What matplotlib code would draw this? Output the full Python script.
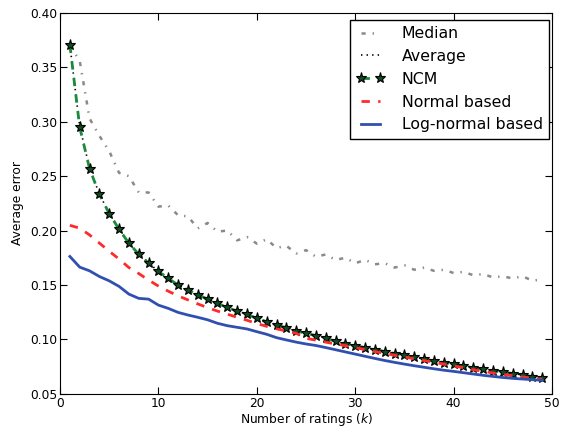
import numpy as np
import matplotlib
matplotlib.use('Agg')
import matplotlib.pyplot as plt

# classic-looking dash patterns
plt.rcParams['lines.scale_dashes'] = False
plt.rcParams['lines.dashed_pattern'] = [6, 6]
plt.rcParams['lines.dashdot_pattern'] = [3, 5, 1, 5]
plt.rcParams['lines.dotted_pattern'] = [1, 3]

# Number of ratings k
k = np.arange(1, 50)

median = [0.370, 0.356, 0.303, 0.287, 0.273, 0.253, 0.250, 0.235, 0.235, 0.222,
          0.223, 0.214, 0.213, 0.202, 0.207, 0.199, 0.200, 0.191, 0.194, 0.188,
          0.192, 0.184, 0.186, 0.179, 0.182, 0.176, 0.178, 0.173, 0.175, 0.170,
          0.173, 0.169, 0.170, 0.166, 0.168, 0.164, 0.166, 0.163, 0.164, 0.161,
          0.162, 0.159, 0.160, 0.157, 0.158, 0.156, 0.158, 0.154, 0.155]

ncm = [0.3707, 0.2949, 0.2570, 0.2332, 0.2156, 0.2012, 0.1883, 0.1783, 0.1700, 0.1624,
       0.1560, 0.1500, 0.1453, 0.1410, 0.1370, 0.1330, 0.1294, 0.1258, 0.1230, 0.1193,
       0.1162, 0.1132, 0.1107, 0.1077, 0.1056, 0.1034, 0.1010, 0.0983, 0.0960, 0.0942,
       0.0924, 0.0906, 0.0888, 0.0870, 0.0855, 0.0836, 0.0818, 0.0802, 0.0787, 0.0772,
       0.0757, 0.0741, 0.0726, 0.0711, 0.0699, 0.0686, 0.0671, 0.0658, 0.0647]

average = [0.3707, 0.2955, 0.2575, 0.2335, 0.2158, 0.2014, 0.1885, 0.1785, 0.1702, 0.1626,
           0.1562, 0.1502, 0.1455, 0.1412, 0.1372, 0.1332, 0.1296, 0.1260, 0.1232, 0.1195,
           0.1164, 0.1134, 0.1109, 0.1079, 0.1058, 0.1036, 0.1012, 0.0985, 0.0962, 0.0944,
           0.0926, 0.0908, 0.0890, 0.0872, 0.0857, 0.0838, 0.0820, 0.0804, 0.0789, 0.0774,
           0.0759, 0.0743, 0.0728, 0.0713, 0.0701, 0.0688, 0.0673, 0.0660, 0.0649]

normal = [0.2048, 0.2022, 0.1960, 0.1885, 0.1810, 0.1738, 0.1660, 0.1605, 0.1545, 0.1490,
          0.1443, 0.1400, 0.1363, 0.1326, 0.1292, 0.1260, 0.1232, 0.1203, 0.1176, 0.1146,
          0.1120, 0.1097, 0.1077, 0.1056, 0.1010, 0.0993, 0.0975, 0.0958, 0.0943, 0.0925,
          0.0906, 0.0888, 0.0871, 0.0854, 0.0838, 0.0822, 0.0806, 0.0790, 0.0773, 0.0756,
          0.0740, 0.0722, 0.0706, 0.0692, 0.0678, 0.0666, 0.0655, 0.0644, 0.0635]

lognormal = [0.1762, 0.1664, 0.1630, 0.1578, 0.1538, 0.1487, 0.1416, 0.1377, 0.1370, 0.1315,
             0.1285, 0.1248, 0.1224, 0.1203, 0.1180, 0.1148, 0.1126, 0.1111, 0.1096, 0.1071,
             0.1047, 0.1016, 0.0995, 0.0975, 0.0958, 0.0944, 0.0925, 0.0905, 0.0885, 0.0865,
             0.0845, 0.0825, 0.0806, 0.0789, 0.0773, 0.0758, 0.0744, 0.0730, 0.0717, 0.0706,
             0.0694, 0.0682, 0.0670, 0.0660, 0.0650, 0.0642, 0.0636, 0.0630, 0.0624]

fig = plt.figure(figsize=(5.61, 4.29), dpi=100)
ax = fig.add_axes([0.107, 0.082, 0.877, 0.888])

ax.plot(k, median, '-.', color='#8a8a8a', lw=1.8, label='Median')
ax.plot(k, average, ':', color='black', lw=1.2, label='Average')
ax.plot(k, ncm, '--', color='#1b8a3a', lw=2, marker='*', markersize=8,
        markerfacecolor='#0d4d20', markeredgecolor='black', markeredgewidth=0.8,
        label='NCM')
ax.plot(k, normal, '--', color='#ff2a2a', lw=2, label='Normal based')
ax.plot(k, lognormal, '-', color='#3050b0', lw=2, label='Log-normal based')

ax.set_xlim(0, 50)
ax.set_ylim(0.05, 0.40)
ax.set_xticks([0, 10, 20, 30, 40, 50])
ax.set_yticks(np.arange(0.05, 0.401, 0.05))
ax.yaxis.set_major_formatter(matplotlib.ticker.FormatStrFormatter('%.2f'))
ax.tick_params(direction='in', top=True, right=True, length=5, labelsize=8.8, pad=2)

ax.set_xlabel('Number of ratings ($k$)', fontsize=8.8, labelpad=1)
ax.set_ylabel('Average error', fontsize=8.8, labelpad=4)

leg = ax.legend(loc='upper right', bbox_to_anchor=(0.994, 0.982), fontsize=11.3,
                numpoints=2, handlelength=1.8, handletextpad=1.1, labelspacing=0.5,
                borderaxespad=0, fancybox=False, framealpha=1)
leg.get_frame().set_edgecolor('black')

fig.savefig('out.png', dpi=100)
